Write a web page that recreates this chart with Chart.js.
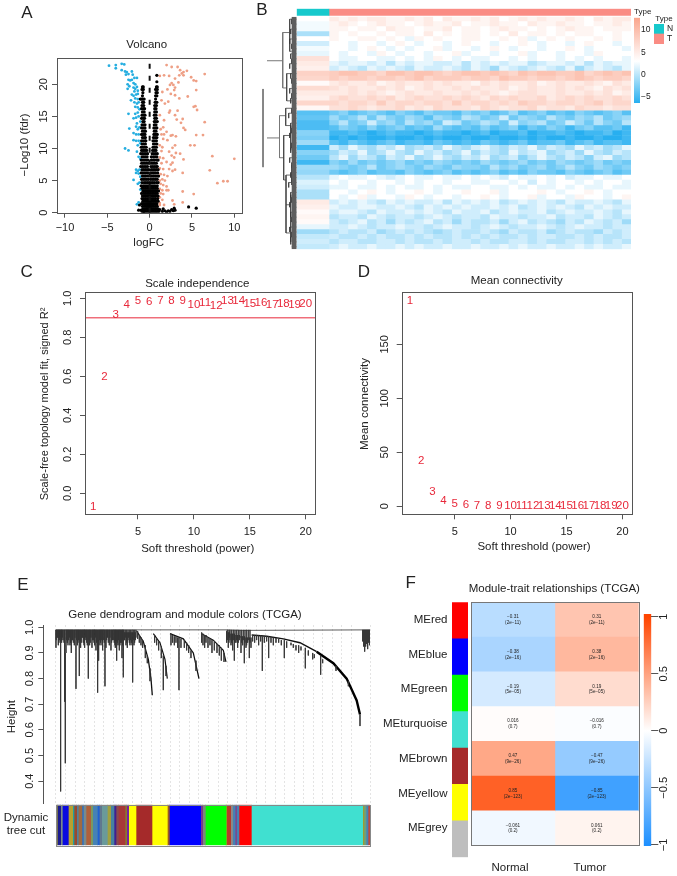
<!DOCTYPE html>
<html>
<head>
<meta charset="utf-8">
<title>TCGA figure</title>
<script src="https://cdn.jsdelivr.net/npm/chart.js@4"></script>
<style>
  html, body { margin: 0; padding: 0; background: #fff; }
  #page { position: relative; width: 677px; height: 876px; overflow: hidden; }
  canvas { position: absolute; left: 0; top: 0; }
</style>
</head>
<body>
<div id="page"></div>
<script>
// ---- panel A: volcano ----
const volcanoXTicks = [-10, -5, 0, 5, 10];
const volcanoYTicks = [0, 5, 10, 15, 20];
const downGenes = [[-4.8,22.9],[-4.0,23],[-4.0,22.5],[-3.3,23.2],[-3.0,23.1],[-3.3,22.2],[-2.9,22],[-2.7,21.9],[-2.8,21.5],[-2.5,21.6],[-2.1,22],[-2,21.5],[-1.8,21],[-1.5,21],[-2.5,20.7],[-2.3,20.6],[-2.1,20.7],[-2.6,20],[-2.4,19.7],[-2.6,19.3],[-1.9,20.2],[-1.7,20],[-1.9,19.5],[-1.7,19.3],[-1.5,19.6],[-1.8,18.9],[-1.4,19],[-2.1,18.4],[-1.9,18.2],[-1.6,18.4],[-1.4,18.5],[-1.7,17.8],[-1.4,17.7],[-2.2,17.5],[-1.8,17.2],[-1.5,17],[-1.3,17.2],[-1.7,16.5],[-1.4,16.4],[-1.2,16.1],[-2.5,15.4],[-1.7,15.4],[-1.4,15.6],[-1.9,14.7],[-1.6,14.8],[-1.3,15],[-1.1,14.2],[-1.5,13.9],[-2.4,13.1],[-1.6,13.4],[-1.4,13],[-1.2,13.3],[-1.9,12.4],[-1.6,12.2],[-1.3,12.2],[-1.9,11.3],[-1.6,11.2],[-1.3,11.2],[-1.1,10.8],[-1.4,10.5],[-2.9,10],[-2.5,9.7],[-1.5,9.5],[-1.3,8.7],[-1.1,8.4],[-1.6,6.7],[-1.4,6.5],[-1.2,6.7],[-1.6,6.2],[-1.3,6.1],[-1.1,5.6],[-1.9,5.1],[-1.4,4.5],[-1.2,4.7],[-1.1,3.6],[-1.3,1.6],[-1.5,1.3]];
const upGenes = [[2.0,23],[2.6,22.7],[3.3,22.7],[3.6,22.2],[4.4,22.1],[4.0,21.9],[3.8,21.7],[3.5,21.4],[4.0,21.4],[6.5,21.6],[4.9,21.1],[5.2,20.6],[5.5,20.5],[1.2,21.3],[1.7,21.4],[2.3,21.3],[3.0,20.9],[2.6,20.2],[2.4,19.9],[2.8,19.9],[3.0,19.5],[2.9,19.1],[3.4,20.3],[2.1,19.2],[1.5,18.8],[2.5,18.5],[3.0,18.3],[3.5,17.8],[4.5,18.1],[5.5,19.1],[1.4,17.5],[1.8,17.0],[2.2,17.3],[5.2,16.5],[5.4,16.6],[5.6,16.0],[2.4,15.9],[2.3,15.6],[3.3,15.9],[3.0,15.2],[1.2,15.2],[1.7,14.4],[3.2,14.5],[3.9,14.6],[3.7,14.0],[4.0,13.2],[6.5,14.1],[1.3,13.0],[1.6,13.3],[2.0,12.6],[1.4,12.2],[1.7,12.2],[2.5,12.0],[2.7,12.1],[5.5,12.1],[6.3,12.1],[4.2,12.9],[1.6,11.5],[2.1,11.3],[3.1,11.9],[1.2,10.5],[1.5,10.2],[2.7,10.1],[3.0,10.5],[4.8,10.5],[5.3,10.5],[1.4,9.6],[2.3,9.5],[3.1,9.3],[3.6,9.2],[1.2,8.6],[1.6,8.5],[2.6,8.9],[2.9,8.6],[4,8.3],[7.4,8.8],[10.0,8.4],[1.4,7.7],[2.0,7.9],[2.5,7.5],[2.7,7.8],[1.2,6.9],[1.6,6.8],[2.3,6.8],[2.7,6.5],[3.0,6.7],[3.9,6.2],[7.1,6.6],[1.3,6.0],[1.7,5.9],[2.1,5.7],[1.2,5.0],[1.5,5.2],[1.8,5.0],[8.0,4.6],[8.7,4.9],[9.2,4.9],[1.3,4.5],[1.6,4.3],[2.0,4.1],[1.2,3.7],[1.5,3.5],[2.0,3.5],[2.2,3.5],[3.9,3.3],[1.3,3.0],[1.6,2.9],[5.2,2.9],[1.2,2.4],[1.5,2.0],[2.7,1.9],[1.2,1.5],[2.9,1.3],[3.9,1.6],[1.2,1.2],[1.7,1.2]];
const flatLevels = [0.2,0.6,1,1.4,1.8,2.2,2.6,3,3.4,3.8,4.2,4.7,5.2,5.7,6.2,6.7,7.2,7.7,8.2,8.7,9.2,9.7,10.2,10.7,11.2,11.7,12.2,12.7,13.2,13.7,14.2,14.7,15.2,15.7,16.2,16.7,17.2,17.7,18.2,18.7,19.2,19.6,20.4,21.4];
const flatLogFC = [
  [-.9,-.7,-.5,-.3,-.1,.1,.3,.5,.7,.9,1.1],[-.8,-.6,-.4,-.25,-.1,.05,.2,.4,.6,.8,1],[-.85,-.65,-.45,-.3,-.15,0,.15,.3,.5,.7,.9],
  [-.95,-.75,-.55,-.35,-.2,-.05,.1,.25,.45,.65,.85],[-.8,-.6,-.4,-.2,0,.2,.4,.6,.8,1],[-.9,-.7,-.5,-.3,-.1,.1,.3,.5,.7,.95],
  [-.85,-.65,-.45,-.25,-.05,.15,.35,.55,.75,1],[-.95,-.7,-.5,-.3,-.1,.1,.3,.5,.7,.9],[-.8,-.6,-.4,-.2,0,.2,.4,.6,.85,1.05],
  [-.9,-.7,-.5,-.3,-.1,.1,.3,.5,.7,.9],[-1,-.75,-.55,-.35,-.15,.05,.25,.45,.65,.9],[-.9,-.65,-.45,-.25,-.05,.15,.35,.55,.8,1],
  [-.95,-.75,-.55,-.35,-.15,.1,.3,.5,.7,.9],[-.85,-.65,-.45,-.2,.05,.25,.45,.65,.85,1.05],[-1,-.8,-.6,-.4,-.2,.1,.3,.5,.7,.95],
  [-.9,-.7,-.5,-.3,-.1,.2,.4,.6,.8,1],[-1.05,-.85,-.65,-.45,-.25,.15,.35,.55,.75,.9],[-.95,-.75,-.55,-.35,-.15,.2,.4,.6,.8],
  [-1,-.8,-.6,-.4,-.2,.2,.4,.6,.85,1],[-.9,-.7,-.5,-.3,.2,.45,.65,.85],[-1.05,-.85,-.65,-.45,-.25,.3,.5,.7,.9],[-.95,-.75,-.55,-.35,.35,.55,.75],
  [-1,-.8,-.6,-.4,.4,.6,.8],[-.9,-.7,-.5,.45,.65,.85],[-.95,-.75,-.55,-.45,.4,.6,.8],[-.85,-.65,-.5,.45,.65,.85],[-.95,-.75,-.55,.5,.7,.9],
  [-.85,-.65,-.5,.55,.75],[-.95,-.75,-.55,.5,.7,.85],[-.9,-.7,-.55,.55,.75],[-.8,-.65,.55,.7,.9],[-.95,-.75,-.6,.6,.8],[-.9,-.7,-.55,.55,.75],
  [-.85,-.65,.6,.8],[-.95,-.75,-.6,.6,.75],[-.9,-.7,.6,.8],[-.85,-.7,.65,.85],[-1.1,-.95,-.8,-.65,.7],[-.85,.7,.85],[-.8,.75,.9],[-.9,-.75,.7,.9],[-.85,-.75,.8,.9],[.85],[.85]
];
const lowScatter = [[2.2,.3],[2.6,.5],[2.9,.7],[1.5,.2],[1.8,.3],[3,.4],[2,.1],[4.6,.9],[5.5,.7],[2.8,.3],[-1,.4],[-.7,.2],[1.2,.5],[1.6,.6],[2.4,.2],[-1.3,.4],[-1.2,1.2]];
const cutX = [0, 0];
const cutY = [0, 23.6];

// ---- panel B: expression heatmap ----
const heatColWidths = [32.3, 9.45];
const heatNormal = [3,2.5,2.5,-.5,3,1,2.5,2,6,5,4.5,7.5,7,3.5,6.5,5,4.5,7,3.8,-4,-3.5,-4.5,-4.5,-2,-2.5,-1,-5,-2,-3,-5,-1,-1.5,0,1.5,1,-.5,-.5,5,4.5,3.5,4,3.5,2,-1,.5,1,.5];
const heatTumor = [
  [5,4,5,4,5,5,4,4,5,4,5,3,5,4,4,5,4,5,3,4,5,4,5,4,4,5,4,3,5,4,5,5],
  [4,5,4,3,4,5,4,4,3,4,5,4,4,5,3,4,4,5,4,4,3,5,4,4,5,4,4,3,4,4,5,4],
  [4,4,3,4,4,3,5,4,4,3,4,4,5,3,4,4,3,4,5,4,4,3,4,3,4,5,4,4,3,4,4,4],
  [4,3,4,3,3,4,3,4,4,3,5,3,4,3,4,4,3,4,3,5,3,4,4,3,4,3,4,4,3,3,4,3],
  [4,3,3,4,4,3,4,3,2,4,3,4,3,3,4,4,3,3,4,3,4,2,3,4,3,4,3,3,4,3,4,3],
  [3,3,2,3,3,2,3,4,3,2,3,3,2,3,4,3,3,2,3,3,4,3,2,3,3,2,3,4,3,3,2,3],
  [3,3,2,3,4,3,2,3,2,3,3,4,2,3,3,2,3,4,3,2,3,3,2,3,3,4,3,2,3,3,3,2],
  [3,2,3,3,2,4,3,2,3,3,2,3,3,4,2,3,3,2,3,3,4,2,3,3,2,3,3,2,4,3,3,3],
  [3,2,2,3,3,2,2,3,2,3,2,4,3,2,3,2,2,3,3,2,3,2,3,3,2,3,2,3,2,3,3,2],
  [2,1,2,2,1,2,0,2,1,2,2,1,1,2,0,2,1,2,1,2,2,0,1,2,2,1,2,0,2,1,2,2],
  [1,2,1,0,2,1,2,1,0,2,1,1,2,1,0,2,1,-1,2,1,0,1,2,1,0,2,-1,1,2,1,0,2],
  [8,9,9,8,8,7,9,9,8,9,9,8,7,8,9,9,8,9,8,7,9,8,9,9,8,8,9,7,8,9,8,9],
  [8,7,8,8,7,8,8,7,8,9,7,8,8,8,7,8,8,7,9,8,8,7,8,8,7,8,9,8,7,8,8,7],
  [5,6,5,5,6,4,5,6,5,5,6,5,6,5,5,4,6,5,6,5,5,6,4,5,6,5,5,6,5,4,6,5],
  [6,5,6,5,5,6,5,6,4,5,6,5,5,6,5,6,5,5,6,4,5,6,5,5,6,5,6,5,4,6,5,6],
  [5,5,6,5,6,5,4,5,6,5,5,6,5,5,6,5,6,5,4,5,6,6,5,5,6,5,5,6,5,6,4,5],
  [6,7,6,6,7,6,7,5,6,7,6,6,7,6,7,6,5,7,6,7,6,6,7,5,6,7,6,7,6,6,7,6],
  [7,6,7,7,6,8,6,7,7,6,7,7,6,8,6,7,7,6,7,6,8,7,7,6,7,7,6,7,8,6,7,7],
  [6,6,7,6,5,6,6,7,5,6,5,7,6,6,6,5,7,6,5,6,6,7,5,6,6,5,7,6,6,5,6,6],
  [-3,-2,-4,-3,-2,-3,-4,-2,-3,-4,-2,-3,-3,-4,-2,-3,-2,-4,-3,-1,-4,-3,-2,-4,-3,-4,-2,-3,-4,-3,-2,-4],
  [-1,-3,-2,0,-3,0,-2,-3,-1,-2,-4,-1,-2,-3,0,-1,-3,-2,1,-3,-1,-2,-3,0,-2,-3,-1,-2,0,-3,-2,-1],
  [-2,0,-3,-2,1,-2,-1,-3,0,-2,-1,-3,1,0,-3,-2,0,-1,-3,1,-2,-1,0,-3,-2,1,-1,-3,0,-2,-3,0],
  [-4,-2,-3,-4,-2,-4,-3,-2,-4,-3,-4,-1,-3,-4,-3,-4,-2,-4,-3,-2,-5,-3,-4,-2,-3,-5,-3,-2,-4,-4,-3,-5],
  [-5,-5,-4,-5,-6,-5,-4,-5,-5,-6,-5,-4,-5,-5,-6,-5,-4,-6,-5,-5,-4,-6,-5,-5,-4,-5,-6,-5,-5,-4,-6,-5],
  [-6,-5,-6,-5,-6,-6,-5,-6,-6,-5,-6,-5,-6,-6,-5,-6,-6,-5,-6,-6,-5,-6,-5,-6,-6,-5,-6,-6,-5,-6,-6,-5],
  [-4,-5,-3,-4,-5,-4,-3,-5,-4,-4,-5,-3,-4,-5,-4,-5,-3,-4,-5,-4,-3,-5,-4,-4,-3,-5,-4,-3,-5,-4,-4,-5],
  [1,-1,2,0,-1,1,0,2,-1,0,1,-1,2,0,-1,1,2,0,-1,1,0,2,-1,1,0,-1,2,0,1,-1,0,2],
  [-1,1,0,2,-1,0,2,0,-1,2,0,1,-1,0,2,-1,1,0,-1,2,0,1,2,-1,0,1,-1,2,0,-1,1,0],
  [0,2,-1,1,0,-2,1,0,2,-1,0,2,0,-1,1,0,2,-1,0,1,-2,0,2,0,-1,1,0,-2,1,2,-1,0],
  [-2,-3,-1,-3,-2,-3,-2,-1,-3,-2,-3,-1,-2,-3,-2,-3,-1,-2,-3,-2,-1,-3,-2,-3,-1,-2,-3,-2,-1,-3,-2,-3],
  [-1,-2,-3,-2,0,-3,-2,-1,-2,-3,-1,-2,-3,-1,-2,-2,-3,0,-2,-1,-3,-2,-1,-3,-2,0,-2,-3,-1,-2,-3,-2],
  [-3,-4,-3,-2,-4,-3,-3,-4,-2,-3,-4,-3,-2,-4,-3,-4,-3,-2,-4,-3,-4,-2,-3,-3,-4,-2,-3,-4,-3,-2,-4,-3],
  [2,3,2,2,3,2,1,2,3,2,2,3,2,2,3,2,3,2,1,3,2,2,3,2,3,1,2,2,3,2,2,3],
  [3,2,3,3,2,3,3,2,3,2,3,3,2,3,3,2,2,3,3,2,3,1,3,2,3,3,2,3,2,3,3,2],
  [2,2,3,2,2,3,2,3,2,2,3,2,3,2,2,3,3,2,2,3,2,3,2,2,3,2,3,2,2,3,2,2],
  [3,3,2,3,4,3,2,3,3,4,3,2,3,3,4,3,3,4,2,3,3,3,4,3,2,3,3,4,3,2,3,3],
  [3,2,3,4,2,3,3,2,4,3,2,3,3,2,3,3,4,3,2,3,3,4,2,3,3,2,4,3,3,2,3,4],
  [1,2,1,2,1,0,2,1,2,1,1,2,0,2,1,2,1,2,0,1,2,1,2,1,0,2,1,1,2,1,0,2],
  [2,1,1,2,2,1,1,2,1,0,2,1,2,1,2,1,1,2,1,2,0,1,2,1,2,1,0,2,1,2,1,1],
  [1,2,2,1,0,2,1,1,2,1,2,1,0,2,1,1,2,0,1,2,1,1,2,0,1,2,1,1,2,1,0,2],
  [0,1,1,0,2,1,0,1,1,0,1,2,1,0,1,1,0,2,1,1,0,1,1,2,0,1,1,0,2,1,0,1],
  [1,0,1,2,0,1,-1,1,0,1,2,0,1,-1,1,0,0,1,-1,1,2,0,1,0,-1,1,0,2,1,0,1,-1],
  [1,1,2,1,0,1,1,2,1,1,0,1,2,1,1,0,1,2,1,0,1,1,2,1,0,1,2,1,1,0,1,1],
  [0,1,0,0,1,-1,0,1,0,1,0,-1,0,1,0,0,1,0,-1,1,0,0,1,-1,0,1,0,0,-1,1,0,1],
  [1,0,0,1,0,1,0,0,1,0,1,0,0,1,0,1,0,1,0,0,1,0,1,1,0,0,1,0,1,0,0,1],
  [0,1,1,0,0,1,1,0,1,0,0,1,0,1,1,0,1,0,0,1,1,0,1,0,0,1,1,0,1,0,1,0],
  [1,2,1,1,2,1,1,2,1,2,1,1,2,1,1,2,1,1,2,1,2,1,1,2,1,1,2,1,2,1,1,2]
];
const typeNames = ["N", "T"];
const typeColors = ["#17c9cc", "#fa8c84"];
const typeWidths = [32.3, 302];
const heatScaleTicks = [-5, 0, 5, 10];
const heatScaleRange = [-6.4, 12.8];
// row tree: [height, row, height, row]
const rowTreeMain = [[33.7,14.6,33.7,30.4],[29.7,8.9,14,8.9],[29.7,24.5,17.2,24.5],[14,3.2,14,14.4],[17.2,20,17.2,28.5],[14,3.2,7,3.2],[14,14.4,10,14.4],[17.2,20,11,20],[17.2,28.5,13,28.5]];
const rowTreeInner = [[7,.5,7,7],[7,.5,4,.5],[7,7,5,7],[10,11.5,10,17],[10,11.5,5,11.5],[10,17,5,17],[11,18.5,11,22],[11,18.5,5,18.5],[11,22,6,22],[13,24,13,33],[13,24,6,24],[13,33,10.7,33],[10.7,32,10.7,43.7],[10.7,32,5,32],[10.7,38,6,38],[10.7,43.7,6,43.7],[6,36,6,41],[6,22,6,27],[5,30,5,34],[6,41,6,46]];
const rowTwigs = [5,4,6,4,7,5,4,6,5,7,4,6,5,4,7,5,6,4,5,8,4,6,5,7,4,5,6,4,7,5,4,6,5,8,4,6,5,7,4,6,5,4,7,5,6,4,5];

// ---- panel C / D: soft threshold ----
const powers = [1,2,3,4,5,6,7,8,9,10,11,12,13,14,15,16,17,18,19,20];
const signedR2 = [-.068,.598,.914,.966,.988,.983,.986,.988,.986,.969,.979,.961,.985,.986,.971,.976,.969,.974,.969,.971];
const meanConn = [190,42,13,5,2.5,1.2,.6,.3,.15,.1,.05,.03,.02,.01,.01,0,0,0,0,0];
const powerTicks = [5, 10, 15, 20];
const r2Ticks = [0, .2, .4, .6, .8, 1];
const connTicks = [0, 50, 100, 150];
const r2Cutoff = 0.9;

// ---- panel E: gene tree, leaf position 0-942 ----
const heightTicks = [.4, .5, .6, .7, .8, .9, 1];
const treeTop = [[0,.99],[510,.99],[560,.988],[942,.99]];
const brownArm = [[242,.985],[262,.945],[277,.875],[285,.80],[289,.735]];
const yellowArm = [[292,.975],[312,.94],[327,.875],[334,.80]];
const blueArm = [[342,.975],[382,.955],[412,.90],[429,.80]];
const greenArm = [[437,.975],[472,.95],[502,.91],[510,.865]];
const turquoiseHead = [[587,.97],[632,.965],[682,.955],[732,.94],[782,.905]];
const turquoiseTail = [[782,.905],[832,.86],[872,.80],[902,.715],[912,.66]];
// [leaf, from height, to height]
const treeSpikes = [[0,.99,.92],[3,.99,.96],[7,.99,.93],[10,.99,.95],[14,.99,.36],[17,.99,.94],[21,.99,.95],[26,.99,.71],[28,.9,.47],[30,.99,.9],[34,.99,.94],[38,.99,.95],[42,.99,.93],[46,.99,.9],[50,.99,.95],[55,.99,.93],[60,.99,.76],[64,.99,.93],[68,.99,.95],[70,.99,.81],[74,.99,.92],[78,.99,.96],[82,.99,.94],[86,.99,.92],[90,.99,.95],[94,.99,.93],[97,.99,.80],[101,.99,.93],[105,.99,.96],[108,.99,.92],[112,.99,.95],[116,.99,.93],[120,.99,.91],[125,.99,.745],[128,.99,.87],[132,.99,.93],[136,.99,.95],[140,.99,.91],[147,.99,.77],[150,.99,.92],[155,.99,.96],[160,.99,.93],[165,.99,.91],[170,.99,.95],[175,.99,.94],[178,.99,.92],[182,.99,.87],[186,.99,.93],[190,.99,.91],[194,.99,.94],[198,.99,.88],[202,.99,.805],[206,.98,.95],[210,.98,.93],[214,.98,.92],[218,.98,.96],[222,.98,.93],[226,.98,.94],[230,.98,.785],[234,.98,.93],[238,.98,.95],
  [245,.985,.955],[250,.97,.94],[255,.96,.93],[260,.95,.92],[268,.93,.88],[274,.89,.86],[282,.84,.79],[296,.97,.94],[302,.955,.93],[308,.945,.91],[316,.925,.88],[322,.89,.755],[330,.85,.81],[345,.975,.93],[350,.97,.94],[355,.965,.93],[360,.965,.94],[365,.96,.92],[369,.96,.755],[375,.955,.92],[385,.95,.92],[392,.94,.91],[398,.93,.9],[405,.91,.88],[420,.87,.83],[437,.98,.94],[441,.975,.93],[446,.97,.92],[450,.97,.94],[456,.96,.92],[462,.955,.93],[468,.95,.9],[475,.945,.91],[483,.935,.9],[490,.93,.89],[496,.92,.87],[504,.9,.865],
  [512,.985,.94],[517,.98,.92],[520,.98,.96],[525,.975,.93],[530,.975,.91],[535,.975,.87],[540,.97,.94],[545,.97,.92],[550,.97,.95],[555,.965,.9],[560,.965,.93],[565,.965,.86],[570,.96,.92],[575,.96,.94],[580,.96,.88],[585,.96,.92],
  [590,.97,.945],[596,.97,.94],[602,.97,.95],[608,.968,.93],[614,.968,.945],[619,.965,.83],[625,.965,.94],[632,.965,.945],[638,.965,.88],[645,.962,.94],[652,.96,.93],[660,.958,.94],[668,.955,.94],[676,.95,.93],[685,.95,.88],[692,.945,.92],[705,.94,.93],[712,.935,.92],[720,.93,.91],[728,.93,.90],[735,.925,.91],[748,.92,.84],[757,.91,.89],[770,.90,.875],[775,.895,.88],[794,.89,.815],[800,.875,.86],[840,.85,.83],[877,.79,.77],[912,.66,.615],
  [920,.99,.945],[923,.99,.925],[926,.99,.905],[929,.99,.925],[932,.99,.935],[935,.99,.915],[938,.99,.94],[941,.99,.93]];
// short leaves that thicken the upper edge of each cluster
const treeFuzz = [[1,.95],[5,.96],[9,.94],[12,.96],[16,.95],[19,.96],[24,.94],[32,.95],[36,.93],[40,.96],[44,.94],[48,.95],[52,.94],[57,.96],[62,.95],[66,.94],[72,.95],[76,.94],[80,.96],[84,.93],[88,.96],[92,.94],[99,.95],[103,.94],[110,.95],[114,.94],[118,.96],[122,.94],[130,.95],[134,.94],[138,.93],[142,.95],[145,.94],[152,.95],[157,.94],[162,.96],[167,.94],[172,.95],[177,.93],[180,.95],[184,.94],[188,.95],[192,.93],[196,.94],[200,.93],[204,.95],[208,.96],[212,.94],[216,.95],[220,.94],[224,.95],[228,.93],[232,.95],[236,.94],[240,.96],
  [514,.95],[519,.94],[522,.95],[527,.94],[532,.95],[537,.94],[542,.95],[547,.94],[552,.96],[557,.94],[562,.95],[567,.94],[572,.93],[577,.95],[582,.94]];

// module colour bar, pieces in leaf units
const moduleWidths = [4,10,5,18,13,4,8,5,11,4,8,14,6,14,6,7,17,10,10,6,7,20,5,6,22,48,46,6,94,6,8,62,2,12,6,7,5,7,37,334,4,6,6,6];
const moduleColors = ["#a09a30","#1c1c90","#7a8a8a","#0a0ae0","#b8a030","#20a0a0","#9a4a30","#5080a0","#a06a40","#2070d0","#7a8a8a","#b0603a","#7a9a60","#4682b4","#2060d0","#607890","#6a9a9a","#a0a040","#4682a0","#402090","#8a4a50","#a83838","#8a7a30","#7a20a0","#ffff00","#a52a2a","#ffff00","#9a5a20","#0000ff","#7a3a8a","#7a8a7a","#00ff00","#a09a20","#b83a2a","#8a8a8a","#4682b4","#7a4a90","#4682b4","#ff0000","#40e0d0","#a09a30","#6aa080","#4682b4","#c04a3a"];

// ---- panel F: module-trait ----
const moduleNames = ["MEred","MEblue","MEgreen","MEturquoise","MEbrown","MEyellow","MEgrey"];
const moduleSwatch = ["#ff0000","#0000ff","#00ff00","#40e0d0","#a52a2a","#ffff00","#bebebe"];
const corNormal = [-.31,-.38,-.19,.016,.47,.85,-.061];
const corTumor = [.31,.38,.19,-.016,-.47,-.85,.061];
const pValues = ["2e−11","2e−16","5e−05","0.7","9e−26","2e−123","0.2"];
const traitNames = ["Normal","Tumor"];
const corTicks = [-1, -.5, 0, .5, 1];

const FONT = "'Liberation Sans', Arial, sans-serif";
const INK = "#222";
const AXIS = "#555";
const RED = "#e8283a";
const GUT_L = 40;
const GUT_B = 30;
const page = document.getElementById("page");
const minus = s => String(s).replace("-", "−");

function textPlugin(items) {
  return {
    id: "pageText",
    afterDraw(chart) {
      const c = chart.ctx;
      items.forEach(it => {
        c.save();
        c.translate(it.x, it.y);
        if (it.rot) c.rotate(-Math.PI / 2);
        c.font = (it.size || 11.5) + "px " + FONT;
        c.fillStyle = it.color || INK;
        c.textAlign = it.align || "center";
        c.textBaseline = "middle";
        c.fillText(it.t, 0, 0);
        c.restore();
      });
    }
  };
}

function boxPlugin(color) {
  return {
    id: "box",
    afterDraw(chart) {
      const a = chart.chartArea, c = chart.ctx;
      c.save();
      c.strokeStyle = color || AXIS;
      c.lineWidth = 1;
      c.strokeRect(Math.round(a.left) + .5, Math.round(a.top) + .5, Math.round(a.right - a.left), Math.round(a.bottom - a.top));
      c.restore();
    }
  };
}

// draws each point of the dataset as its own label
function pointLabels(labels) {
  return {
    id: "pointLabels",
    afterDatasetsDraw(chart) {
      const c = chart.ctx;
      c.save();
      c.font = "11.5px " + FONT;
      c.fillStyle = RED;
      c.textAlign = "center";
      c.textBaseline = "middle";
      chart.getDatasetMeta(0).data.forEach((pt, i) => c.fillText(labels[i], pt.x, pt.y));
      c.restore();
    }
  };
}

// every chart gets a page sized canvas, the plot area is set through the padding.
// gut = room kept for the axis boxes, tick labels are clipped to those boxes
function makeChart(area, cfg, gut) {
  const g = gut || {};
  const cv = document.createElement("canvas");
  cv.width = 677; cv.height = 876;
  page.appendChild(cv);
  cfg.options = Object.assign({
    responsive: false,
    animation: false,
    events: [],
    layout: { padding: {
      left: area[0] - (g.l || 0), top: area[2],
      right: 677 - area[1] - (g.r || 0), bottom: 876 - area[3] - (g.b || 0)
    } }
  }, cfg.options);
  cfg.options.plugins = Object.assign({ legend: { display: false }, tooltip: { enabled: false } }, cfg.options.plugins);
  return new Chart(cv.getContext("2d"), cfg);
}

function xAxis(min, max, values, pad) {
  return {
    type: "linear", min, max,
    afterBuildTicks: s => { s.ticks = values.map(v => ({ value: v })); },
    afterFit: s => { s.height = GUT_B; },
    grid: { drawOnChartArea: false, color: AXIS, tickLength: 5 },
    border: { display: false },
    ticks: { color: INK, font: { family: FONT, size: 11 }, maxRotation: 0, autoSkip: false, padding: pad, callback: v => minus(v) }
  };
}

function yAxis(min, max, values, pad, fmt) {
  return {
    type: "linear", min, max,
    afterBuildTicks: s => { s.ticks = values.map(v => ({ value: v })); },
    afterFit: s => { s.width = GUT_L; },
    grid: { drawOnChartArea: false, color: AXIS, tickLength: 5 },
    border: { display: false },
    ticks: { color: INK, font: { family: FONT, size: 11 }, minRotation: 90, maxRotation: 90, crossAlign: "center", autoSkip: false, padding: pad, callback: fmt || (v => minus(v)) }
  };
}

const hidden = (min, max, extra) => Object.assign({ type: "linear", display: false, min, max }, extra);
const toXY = pairs => pairs.map(p => ({ x: p[0], y: p[1] }));
// segment lists become one broken line
function segLine(segs) {
  const out = [];
  segs.forEach(s => { out.push({ x: s[0], y: s[1] }, { x: s[2], y: s[3] }, { x: NaN, y: NaN }); });
  return out;
}
const lineSet = (data, color, width, extra) => Object.assign({ data, borderColor: color, borderWidth: width, showLine: true, pointRadius: 0, tension: 0 }, extra);

// ---- A ----
const flatGenes = [];
flatLevels.forEach((y, i) => flatLogFC[i].forEach(x => flatGenes.push({ x, y })));
lowScatter.forEach(p => flatGenes.push({ x: p[0], y: p[1] }));
makeChart([57, 241.7, 58, 212.7], {
  type: "scatter",
  data: { datasets: [
    lineSet(cutX.map((x, i) => ({ x, y: cutY[i] })), "#111", 2, { borderDash: [5, 7], order: 0 }),
    { data: flatGenes, backgroundColor: "#000", pointRadius: 1.6, borderWidth: 0, order: 1 },
    { data: toXY(upGenes), backgroundColor: "#ee9f85", pointRadius: 1.4, borderWidth: 0, order: 2 },
    { data: toXY(downGenes), backgroundColor: "#26aee0", pointRadius: 1.4, borderWidth: 0, order: 3 }
  ] },
  options: { scales: {
    x: xAxis(-10.94, 10.87, volcanoXTicks, 3.3),
    y: yAxis(0, 24.1, volcanoYTicks, 1.6)
  } },
  plugins: [boxPlugin(), textPlugin([
    { t: "A", x: 27, y: 13, size: 17 },
    { t: "Volcano", x: 146.7, y: 45 },
    { t: "logFC", x: 148.7, y: 243 },
    { t: "−Log10 (fdr)", x: 25, y: 145, rot: true }
  ])]
}, { l: GUT_L, b: GUT_B });

// ---- B ----
function heatColor(v) {
  const t = Math.min(Math.abs(v - 3) / 9, 1);
  const to = v < 3 ? [40, 175, 240] : [250, 165, 140];
  return "rgb(" + to.map(c => Math.round(255 + (c - 255) * t)).join(",") + ")";
}
const rowLabels = heatNormal.map((_, i) => i);
const heatSets = [{ data: rowLabels.map(() => heatColWidths[0]), backgroundColor: heatNormal.map(heatColor) }];
heatTumor[0].forEach((_, col) => {
  heatSets.push({ data: rowLabels.map(() => heatColWidths[1]), backgroundColor: heatTumor.map(r => heatColor(r[col])) });
});
heatSets.forEach(d => { d.barPercentage = 1; d.categoryPercentage = 1; d.borderWidth = 0; d.stack = "s"; });
makeChart([296.7, 631, 16.7, 249.3], {
  type: "bar",
  data: { labels: rowLabels, datasets: heatSets },
  options: {
    indexAxis: "y",
    scales: {
      x: hidden(0, heatColWidths[0] + heatTumor[0].length * heatColWidths[1], { stacked: true }),
      y: { type: "category", display: false, stacked: true }
    }
  },
  plugins: [textPlugin([{ t: "B", x: 262, y: 10, size: 17 }])]
});

makeChart([296.7, 631, 8.7, 15.7], {
  type: "bar",
  data: { labels: ["Type"], datasets: typeNames.map((n, i) => ({
    label: n, data: [typeWidths[i]], backgroundColor: typeColors[i], barPercentage: 1, categoryPercentage: 1, stack: "t"
  })) },
  options: {
    indexAxis: "y",
    scales: { x: hidden(0, typeWidths[0] + typeWidths[1], { stacked: true }), y: { type: "category", display: false, stacked: true } }
  },
  plugins: [textPlugin([{ t: "Type", x: 634, y: 12, align: "left", size: 8 }])]
});

const twigSegs = [];
rowTwigs.forEach((len, r) => {
  twigSegs.push([0, r + .5, len, r + .5]);
  if (r < rowTwigs.length - 1) twigSegs.push([len, r + .5, len, r + 1.5]);
});
makeChart([250, 296.7, 16.7, 249.3], {
  type: "scatter",
  data: { datasets: [
    lineSet(segLine([[2.5, 0, 2.5, 47]]), "#5e5e5e", 5),
    lineSet(segLine(twigSegs), "#3a3a3a", .7),
    lineSet(segLine(rowTreeInner), "#444", .8),
    lineSet(segLine(rowTreeMain), "#777", 1)
  ] },
  options: { scales: { x: hidden(0, 46.7, { reverse: true }), y: hidden(0, 47, { reverse: true }) } }
});

makeChart([634, 640, 17.7, 103], {
  type: "bar",
  data: { labels: ["scale"], datasets: [{
    data: [heatScaleRange],
    barPercentage: 1, categoryPercentage: 1,
    backgroundColor: ctx => {
      const a = ctx.chart.chartArea;
      if (!a) return "#fff";
      const s = ctx.chart.scales.y;
      const g = ctx.chart.ctx.createLinearGradient(0, s.getPixelForValue(heatScaleRange[1]), 0, s.getPixelForValue(heatScaleRange[0]));
      const range = heatScaleRange[1] - heatScaleRange[0];
      g.addColorStop(0, heatColor(heatScaleRange[1]));
      g.addColorStop((heatScaleRange[1] - 3) / range, "#fff");
      g.addColorStop(1, heatColor(heatScaleRange[0]));
      return g;
    }
  }] },
  options: { scales: {
    x: { type: "category", display: false },
    y: {
      type: "linear", position: "right", min: heatScaleRange[0], max: heatScaleRange[1],
      afterBuildTicks: s => { s.ticks = heatScaleTicks.map(v => ({ value: v })); },
      afterFit: s => { s.width = 20; },
      grid: { display: false, drawTicks: false }, border: { display: false },
      ticks: { color: INK, font: { family: FONT, size: 8.5 }, padding: 1, autoSkip: false, callback: v => minus(v) }
    }
  } }
}, { r: 20 });

makeChart([654, 664, 24, 44], {
  type: "bar",
  data: { labels: typeNames, datasets: [{ data: [1, 1], backgroundColor: typeColors, barPercentage: 1, categoryPercentage: 1 }] },
  options: {
    indexAxis: "y",
    scales: {
      x: hidden(0, 1),
      y: { type: "category", position: "right", afterFit: s => { s.width = 13; }, grid: { display: false, drawTicks: false }, border: { display: false },
        ticks: { color: INK, font: { family: FONT, size: 8.5 }, padding: 3, autoSkip: false } }
    }
  },
  plugins: [textPlugin([{ t: "Type", x: 664, y: 19, size: 8 }])]
}, { r: 13 });

// ---- C ----
makeChart([85, 315, 292.3, 514.3], {
  type: "scatter",
  data: { datasets: [
    { data: powers.map((p, i) => ({ x: p, y: signedR2[i] })), pointRadius: 0 },
    lineSet([{ x: .26, y: r2Cutoff }, { x: 20.83, y: r2Cutoff }], RED, 1)
  ] },
  options: { scales: {
    x: xAxis(.26, 20.83, powerTicks, 6.4),
    y: yAxis(-.108, 1.031, r2Ticks, 4.4, v => v.toFixed(1))
  } },
  plugins: [boxPlugin(), pointLabels(powers), textPlugin([
    { t: "C", x: 26.7, y: 272, size: 17 },
    { t: "Scale independence", x: 197.3, y: 283.5 },
    { t: "Soft threshold (power)", x: 197.7, y: 549.3 },
    { t: "Scale-free topology model fit, signed R²", x: 44.7, y: 404, rot: true, size: 11 }
  ])]
}, { l: GUT_L, b: GUT_B });

// ---- D ----
makeChart([401.7, 631.7, 292.3, 514.3], {
  type: "scatter",
  data: { datasets: [{ data: powers.map((p, i) => ({ x: p, y: meanConn[i] })), pointRadius: 0 }] },
  options: { scales: {
    x: xAxis(.26, 20.83, powerTicks, 6.4),
    y: yAxis(-7.4, 198.2, connTicks, 2.5)
  } },
  plugins: [boxPlugin(), pointLabels(powers), textPlugin([
    { t: "D", x: 364, y: 272, size: 17 },
    { t: "Mean connectivity", x: 516.7, y: 281 },
    { t: "Soft threshold (power)", x: 534, y: 546.7 },
    { t: "Mean connectivity", x: 365, y: 404, rot: true }
  ])]
}, { l: GUT_L, b: GUT_B });

// ---- E ----
const fuzzSegs = treeFuzz.map(f => [f[0], .99, f[0], f[1]]);
makeChart([43.3, 370, 625, 803], {
  type: "scatter",
  data: { datasets: [
    lineSet(toXY(treeTop), "#333", .8),
    lineSet(segLine(fuzzSegs), "#333", .7),
    lineSet(segLine(treeSpikes.map(s => [s[0], s[1], s[0], s[2]])), "#333", .8),
    lineSet(toXY(brownArm), "#111", 1.3),
    lineSet(toXY(yellowArm), "#111", 1.2),
    lineSet(toXY(blueArm), "#111", 1.3),
    lineSet(toXY(greenArm), "#111", 1.2),
    lineSet(toXY(turquoiseHead), "#111", 1.4),
    lineSet(toXY(turquoiseTail), "#000", 2.4)
  ] },
  options: { scales: {
    x: {
      type: "linear", min: -38, max: 942,
      afterFit: s => { s.height = 0; },
      grid: { color: "#e4e4e4", drawTicks: false, lineWidth: 1 },
      border: { display: false, dash: [2, 2] },
      ticks: { display: false, stepSize: 28.6 }
    },
    y: Object.assign(yAxis(.315, 1.009, heightTicks, .7, v => v.toFixed(1)), { border: { display: true, color: AXIS } })
  } },
  plugins: [textPlugin([
    { t: "E", x: 23, y: 585, size: 17 },
    { t: "Gene dendrogram and module colors (TCGA)", x: 185, y: 614.5 },
    { t: "Height", x: 12, y: 716.7, rot: true },
    { t: "Dynamic", x: 26, y: 817.5 },
    { t: "tree cut", x: 26, y: 831 }
  ])]
}, { l: GUT_L });

makeChart([56, 370, 804.7, 845.3], {
  type: "bar",
  data: { labels: ["modules"], datasets: moduleWidths.map((w, i) => ({
    data: [w], backgroundColor: moduleColors[i], barPercentage: 1, categoryPercentage: 1, stack: "m"
  })) },
  options: {
    indexAxis: "y",
    scales: { x: hidden(0, moduleWidths.reduce((a, b) => a + b, 0), { stacked: true }), y: { type: "category", display: false, stacked: true } }
  },
  plugins: [boxPlugin("#888")]
});

// ---- F ----
function corColor(v) {
  const t = Math.abs(v);
  const to = v < 0 ? [30, 144, 255] : [255, 69, 0];
  return "rgb(" + to.map(c => Math.round(255 + (c - 255) * t)).join(",") + ")";
}
const cellText = {
  id: "cellText",
  afterDatasetsDraw(chart) {
    const c = chart.ctx;
    c.save();
    c.font = "4.6px " + FONT;
    c.fillStyle = "#222";
    c.textAlign = "center";
    c.textBaseline = "middle";
    [corNormal, corTumor].forEach((cors, d) => {
      chart.getDatasetMeta(d).data.forEach((bar, i) => {
        const mid = (bar.x + bar.base) / 2;
        c.fillText(minus(cors[i]), mid, bar.y - 2.8);
        c.fillText("(" + pValues[i] + ")", mid, bar.y + 2.8);
      });
    });
    c.restore();
  }
};
makeChart([471, 638.7, 602.3, 857.3], {
  type: "bar",
  data: { labels: moduleNames, datasets: [corNormal, corTumor].map((cors, i) => ({
    label: traitNames[i], data: cors.map(() => 1), backgroundColor: cors.map(corColor),
    barPercentage: 1, categoryPercentage: 1, stack: "c"
  })) },
  options: {
    indexAxis: "y",
    scales: {
      x: hidden(0, 2, { stacked: true }),
      y: { type: "category", stacked: true, afterFit: s => { s.width = 100; }, grid: { display: false, drawTicks: false }, border: { display: false },
        ticks: { color: INK, font: { family: FONT, size: 11.5 }, padding: 23.5, autoSkip: false } }
    }
  },
  plugins: [boxPlugin("#777"), cellText, textPlugin([
    { t: "F", x: 410.7, y: 583, size: 17 },
    { t: "Module-trait relationships (TCGA)", x: 554.3, y: 589 },
    { t: traitNames[0], x: 510, y: 867.7 },
    { t: traitNames[1], x: 590, y: 867.7 }
  ])]
}, { l: 100 });

makeChart([452, 468, 602.3, 857.3], {
  type: "bar",
  data: { labels: moduleNames, datasets: [{ data: moduleNames.map(() => 1), backgroundColor: moduleSwatch, barPercentage: 1, categoryPercentage: 1 }] },
  options: { indexAxis: "y", scales: { x: hidden(0, 1), y: { type: "category", display: false } } }
});

const corRange = [-1.01, 1.024];
makeChart([643.7, 651.3, 614, 846], {
  type: "bar",
  data: { labels: ["cor"], datasets: [{
    data: [corRange],
    barPercentage: 1, categoryPercentage: 1,
    backgroundColor: ctx => {
      if (!ctx.chart.chartArea) return "#fff";
      const s = ctx.chart.scales.y;
      const g = ctx.chart.ctx.createLinearGradient(0, s.getPixelForValue(1), 0, s.getPixelForValue(-1));
      g.addColorStop(0, corColor(1));
      g.addColorStop(.5, "#fff");
      g.addColorStop(1, corColor(-1));
      return g;
    }
  }] },
  options: { scales: {
    x: { type: "category", display: false },
    y: Object.assign(yAxis(corRange[0], corRange[1], corTicks, -5), {
      position: "right",
      afterFit: s => { s.width = 25; },
      grid: { drawOnChartArea: false, color: AXIS, tickLength: 7 }
    })
  } }
}, { r: 25 });
</script>
</body>
</html>
